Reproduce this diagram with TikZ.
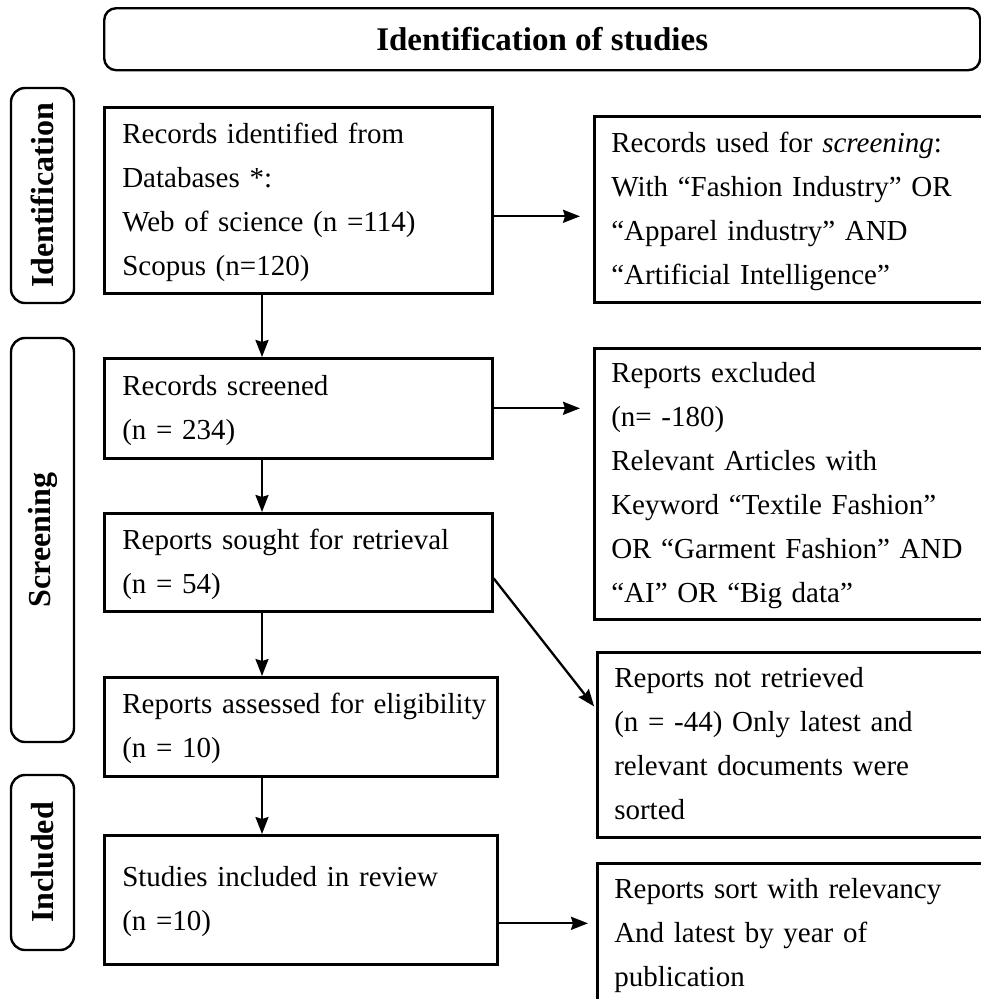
\documentclass[tikz,border=0pt]{standalone}
\usepackage{fontspec}
\setmainfont{Liberation Serif}
\usetikzlibrary{calc,arrows.meta}
\tikzset{
  txt/.style={font=\fontsize{29bp}{44bp}\selectfont},
  stage/.style={draw, line width=2.6bp, inner ysep=0pt, inner xsep=18bp, align=left, anchor=north west, txt},
  sidebox/.style={draw, line width=2.4bp, rounded corners=14bp, rotate=90, inner sep=0pt, font=\fontsize{32bp}{44bp}\selectfont\bfseries},
  arr/.style={line width=2.3bp, -{Stealth[length=17bp,width=13bp,inset=2bp]}},
}
\begin{document}
\begin{tikzpicture}[x=1bp,y=-1bp]
\useasboundingbox (0,0) rectangle (981,999);
\clip (0,0) rectangle (981,999);
% header
\node[draw, line width=2.4bp, rounded corners=12bp, minimum width=876bp, minimum height=62bp, inner sep=0pt, anchor=north west, font=\fontsize{33bp}{44bp}\selectfont\bfseries] (hdr) at (103,7) {Identification of studies};
% side labels
\node[sidebox, minimum width=215bp, minimum height=63bp] (s1) at (42.5,195.5) {Identification};
\node[sidebox, minimum width=404bp, minimum height=63bp] (s2) at (42.5,540) {Screening};
\node[sidebox, minimum width=175bp, minimum height=63bp] (s3) at (42.5,862.5) {Included};
% left column
\node[stage, text width=352bp, minimum height=186bp] (b1) at (103,106) {\strut Records identified from\\Databases *:\\Web of science (n =114)\\Scopus (n=120)\strut};
\node[stage, text width=352bp, minimum height=100bp] (b2) at (103,357) {\strut Records screened\\(n = 234)\strut};
\node[stage, text width=352bp, minimum height=98bp] (b3) at (103,512) {\strut Reports sought for retrieval\\(n = 54)\strut};
\node[stage, text width=357bp, minimum height=99bp] (b4) at (103,676) {\strut \mbox{Reports assessed for eligibility}\\(n = 10)\strut};
\node[stage, text width=357bp, minimum height=129bp] (b5) at (103,834) {\strut Studies included in review\\(n =10)\strut};
% right column
\node[stage, inner xsep=17bp, text width=400bp, minimum height=186bp] (r1) at (593,115) {\strut Records used for \textit{screening}:\\With “Fashion Industry” OR\\“Apparel industry” AND\\“Artificial Intelligence”\strut};
\node[stage, inner xsep=17bp, text width=400bp, minimum height=271bp] (r2) at (593,347) {\strut Reports excluded\\(n= -180)\\Relevant Articles with\\Keyword “Textile Fashion”\\OR “Garment Fashion” AND\\“AI” OR “Big data”\strut};
\node[stage, inner xsep=17bp, text width=400bp, minimum height=185bp] (r3) at (596,651) {\strut Reports not retrieved\\(n = -44) Only latest and\\relevant documents were\\sorted\strut};
\node[stage, inner xsep=17bp, text width=400bp, minimum height=140bp] (r4) at (596,862) {\strut Reports sort with relevancy\\And latest by year of\\publication\strut};
% vertical arrows
\coordinate (ax) at (262,0);
\draw[arr] (b1.south -| ax) -- (b2.north -| ax);
\draw[arr] (b2.south -| ax) -- (b3.north -| ax);
\draw[arr] (b3.south -| ax) -- (b4.north -| ax);
\draw[arr] (b4.south -| ax) -- (b5.north -| ax);
% side arrows
\coordinate (p1) at ($(b1.east)+(0,16)$);
\draw[arr, shorten >=13bp] (p1) -- (p1 -| r1.west);
\draw[arr, shorten >=13bp] (b2.east) -- (b2.east -| r2.west);
\coordinate (p3) at ($(b3.east)+(0,16)$);
\coordinate (q3) at ($(r3.west)+(0,-36)$);
\draw[arr, shorten >=3bp] (p3) -- (q3);
\coordinate (p5) at ($(b5.east)+(0,23.5)$);
\draw[arr, shorten >=8bp] (p5) -- (p5 -| r4.west);
\end{tikzpicture}
\end{document}
